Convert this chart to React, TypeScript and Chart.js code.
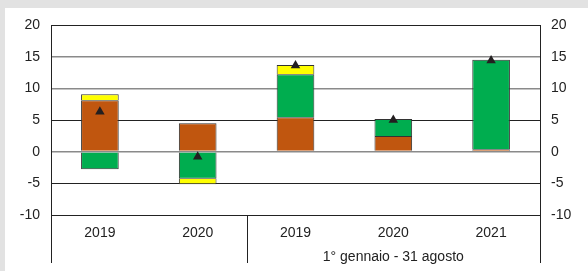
import React, { useEffect, useRef } from "react";
import { Chart, registerables } from "chart.js";

Chart.register(...registerables);

const categories = ["2019", "2020", "2019", "2020", "2021"];
const groupLabel = "1° gennaio - 31 agosto";
const brownValues = [8.13, 4.49, 5.44, 2.48, 0.38];
const greenValues = [-2.78, -4.27, 6.8, 2.69, 14.12];
const yellowValues = [0.95, -0.89, 1.43, 0, 0];
const markerValues = [6.3, -0.8, 13.6, 5.0, 14.4];
const yMin = -10;
const yMax = 20;
const yStep = 5;
const darkGridValues = [20, 5, -5, -10];

const FONT = "'Liberation Sans', Arial, sans-serif";

const framePlugin = {
  id: "frame",
  beforeDraw(chart: any) {
    const { ctx, width, height } = chart;
    ctx.save();
    ctx.fillStyle = "#e2e2e2";
    ctx.fillRect(0, 0, width, height);
    ctx.fillStyle = "#ffffff";
    ctx.fillRect(5, 8, width - 5, height - 8);
    ctx.restore();
  },
  afterDraw(chart: any) {
    const { ctx, chartArea } = chart;
    const x = chart.scales.x;
    const bottom = 263;
    const divider = (x.getPixelForValue(1) + x.getPixelForValue(2)) / 2;
    ctx.save();
    ctx.strokeStyle = "#222";
    ctx.lineWidth = 1;
    for (const px of [chartArea.left, divider, chartArea.right]) {
      ctx.beginPath();
      ctx.moveTo(Math.round(px) + 0.5, chartArea.bottom);
      ctx.lineTo(Math.round(px) + 0.5, bottom);
      ctx.stroke();
    }
    ctx.fillStyle = "#222";
    ctx.font = `14px ${FONT}`;
    ctx.textAlign = "center";
    ctx.textBaseline = "middle";
    ctx.fillText(groupLabel, (divider + chartArea.right) / 2, 257);
    ctx.restore();
  },
};

export default function App() {
  const ref = useRef<HTMLCanvasElement>(null);
  useEffect(() => {
    if (!ref.current) return;
    const tickFont = { family: FONT, size: 14 };
    const chart = new Chart(ref.current, {
      type: "bar",
      data: {
        labels: categories,
        datasets: [
          {
            type: "line",
            label: "marker",
            data: markerValues,
            showLine: false,
            pointStyle: "triangle",
            pointRadius: 5.5,
            pointBackgroundColor: "#231f20",
            pointBorderColor: "#231f20",
            pointBorderWidth: 0,
            stack: "m",
            order: 0,
          } as any,
          {
            label: "brown",
            data: brownValues,
            backgroundColor: "#c0560f",
            borderColor: "#333",
            borderWidth: 1,
            stack: "a",
            order: 1,
          },
          {
            label: "green",
            data: greenValues,
            backgroundColor: "#00ad4f",
            borderColor: "#333",
            borderWidth: 1,
            stack: "a",
            order: 1,
          },
          {
            label: "yellow",
            data: yellowValues,
            backgroundColor: "#ffff00",
            borderColor: "#333",
            borderWidth: 1,
            stack: "a",
            order: 1,
          },
        ],
      },
      options: {
        animation: false,
        responsive: false,
        maintainAspectRatio: false,
        datasets: { bar: { categoryPercentage: 1, barPercentage: 0.385 } },
        layout: { padding: { top: 25, left: 0, right: 0, bottom: 0 } },
        plugins: { legend: { display: false }, tooltip: { enabled: false } },
        scales: {
          x: {
            stacked: true,
            grid: { display: false },
            border: { display: false },
            ticks: { font: tickFont, color: "#222", padding: 2, maxRotation: 0 },
            afterFit(scale: any) {
              scale.height = 56;
            },
          },
          y: {
            stacked: true,
            position: "left",
            min: yMin,
            max: yMax,
            ticks: { stepSize: yStep, font: tickFont, color: "#222", padding: 11 },
            border: { display: true, color: "#222", width: 1 },
            grid: {
              drawTicks: false,
              color: (c: any) =>
                darkGridValues.includes(c.tick?.value) ? "#222" : "#8a8a8a",
              lineWidth: (c: any) =>
                darkGridValues.includes(c.tick?.value) ? 1 : 1.6,
            },
            afterFit(scale: any) {
              scale.width = 51;
            },
          },
          y2: {
            position: "right",
            min: yMin,
            max: yMax,
            ticks: { stepSize: yStep, font: tickFont, color: "#222", padding: 11 },
            border: { display: true, color: "#222", width: 1 },
            grid: { display: false, drawTicks: false },
            afterFit(scale: any) {
              scale.width = 48;
            },
          },
        },
      },
      plugins: [framePlugin],
    });
    return () => chart.destroy();
  }, []);
  return (
    <div style={{ position: "fixed", left: 0, top: 0, width: 588, height: 271 }}>
      <canvas ref={ref} width={588} height={271} style={{ display: "block" }} />
    </div>
  );
}
